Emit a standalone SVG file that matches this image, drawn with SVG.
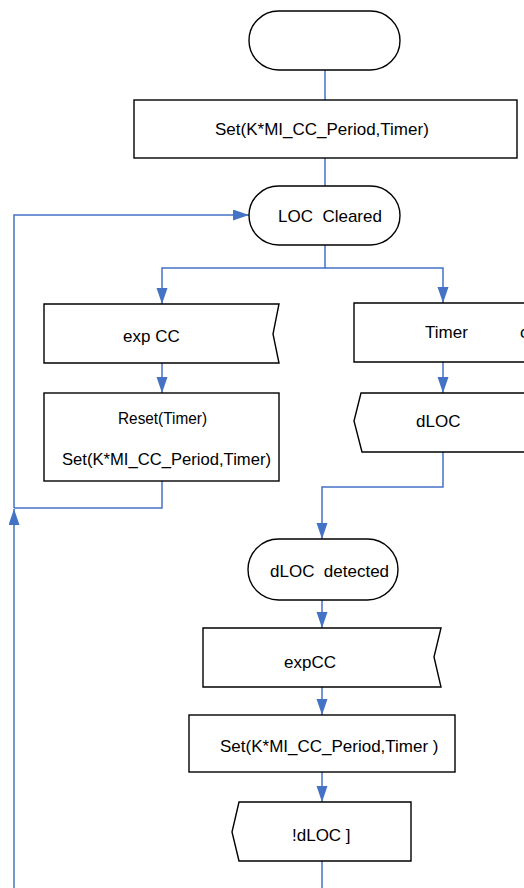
<svg xmlns="http://www.w3.org/2000/svg" width="524" height="888" viewBox="0 0 524 888">
<style>
.n{fill:#fff;stroke:#000;stroke-width:1.4}
.t{font-family:"Liberation Sans",Arial,sans-serif;font-size:17px;fill:#000}
.c{fill:none;stroke:#4472C4;stroke-width:1.5}
</style>
<defs>
<marker id="a" markerUnits="userSpaceOnUse" markerWidth="16" markerHeight="12" refX="16" refY="5.5" orient="auto">
<path d="M0,0 L16,5.5 L0,11 z" fill="#4472C4"/>
</marker>
</defs>
<rect width="524" height="888" fill="#fff"/>
<g id="connectors">
<path class="c" d="M325,70 V100"/>
<path class="c" d="M325,158 V186"/>
<path class="c" d="M325,245 V268 H162 V304" marker-end="url(#a)"/>
<path class="c" d="M325,268 H443 V303" marker-end="url(#a)"/>
<path class="c" d="M162,363 V393" marker-end="url(#a)"/>
<path class="c" d="M443,362 V393" marker-end="url(#a)"/>
<path class="c" d="M162,481 V508 H14"/>
<path class="c" d="M14,888 V509" marker-end="url(#a)"/>
<path class="c" d="M14,508 V215 H249" marker-end="url(#a)"/>
<path class="c" d="M443,452 V487 H322 V539" marker-end="url(#a)"/>
<path class="c" d="M322,600 V628" marker-end="url(#a)"/>
<path class="c" d="M322,687 V715" marker-end="url(#a)"/>
<path class="c" d="M322,772 V802" marker-end="url(#a)"/>
<path class="c" d="M322,861 V888"/>
</g>
<g id="start">
<rect class="n" x="249" y="11" width="151" height="59" rx="29.5"/>
</g>
<g id="set1">
<rect class="n" x="134" y="100" width="383" height="58"/>
<text class="t" x="215" y="135">Set(K*MI_CC_Period,Timer)</text>
</g>
<g id="locCleared">
<rect class="n" x="249" y="186" width="151" height="59" rx="29.5"/>
<text class="t" x="278" y="222" xml:space="preserve">LOC  Cleared</text>
</g>
<g id="expCC1">
<path class="n" d="M44,304 H279 L273,334 L279,363 H44 Z"/>
<text class="t" x="123" y="342">exp CC</text>
</g>
<g id="resetSet">
<rect class="n" x="44" y="393" width="235" height="88"/>
<text class="t" x="118" y="424" textLength="89" lengthAdjust="spacingAndGlyphs">Reset(Timer)</text>
<text class="t" x="62" y="465" textLength="209" lengthAdjust="spacingAndGlyphs">Set(K*MI_CC_Period,Timer)</text>
</g>
<g id="timer">
<path class="n" d="M530,303 H354 V362 H530"/>
<text class="t" x="425" y="338">Timer</text>
<text class="t" x="520" y="338">c</text>
</g>
<g id="dLOC">
<path class="n" d="M530,393 H361 L354,421 L362,452 H530"/>
<text class="t" x="416" y="427">dLOC</text>
</g>
<g id="dLOCdetected">
<rect class="n" x="248" y="539" width="150" height="61" rx="30.5"/>
<text class="t" x="270" y="577" xml:space="preserve">dLOC  detected</text>
</g>
<g id="expCC2">
<path class="n" d="M203,628 H441 L434,657 L441,687 H203 Z"/>
<text class="t" x="284" y="668">expCC</text>
</g>
<g id="set2">
<rect class="n" x="189" y="715" width="266" height="57"/>
<text class="t" x="220" y="752" xml:space="preserve">Set(K*MI_CC_Period,Timer )</text>
</g>
<g id="notdLOC">
<path class="n" d="M239,802 H411 V861 H239 L232,832 Z"/>
<text class="t" x="292" y="841">!dLOC ]</text>
</g>
</svg>
